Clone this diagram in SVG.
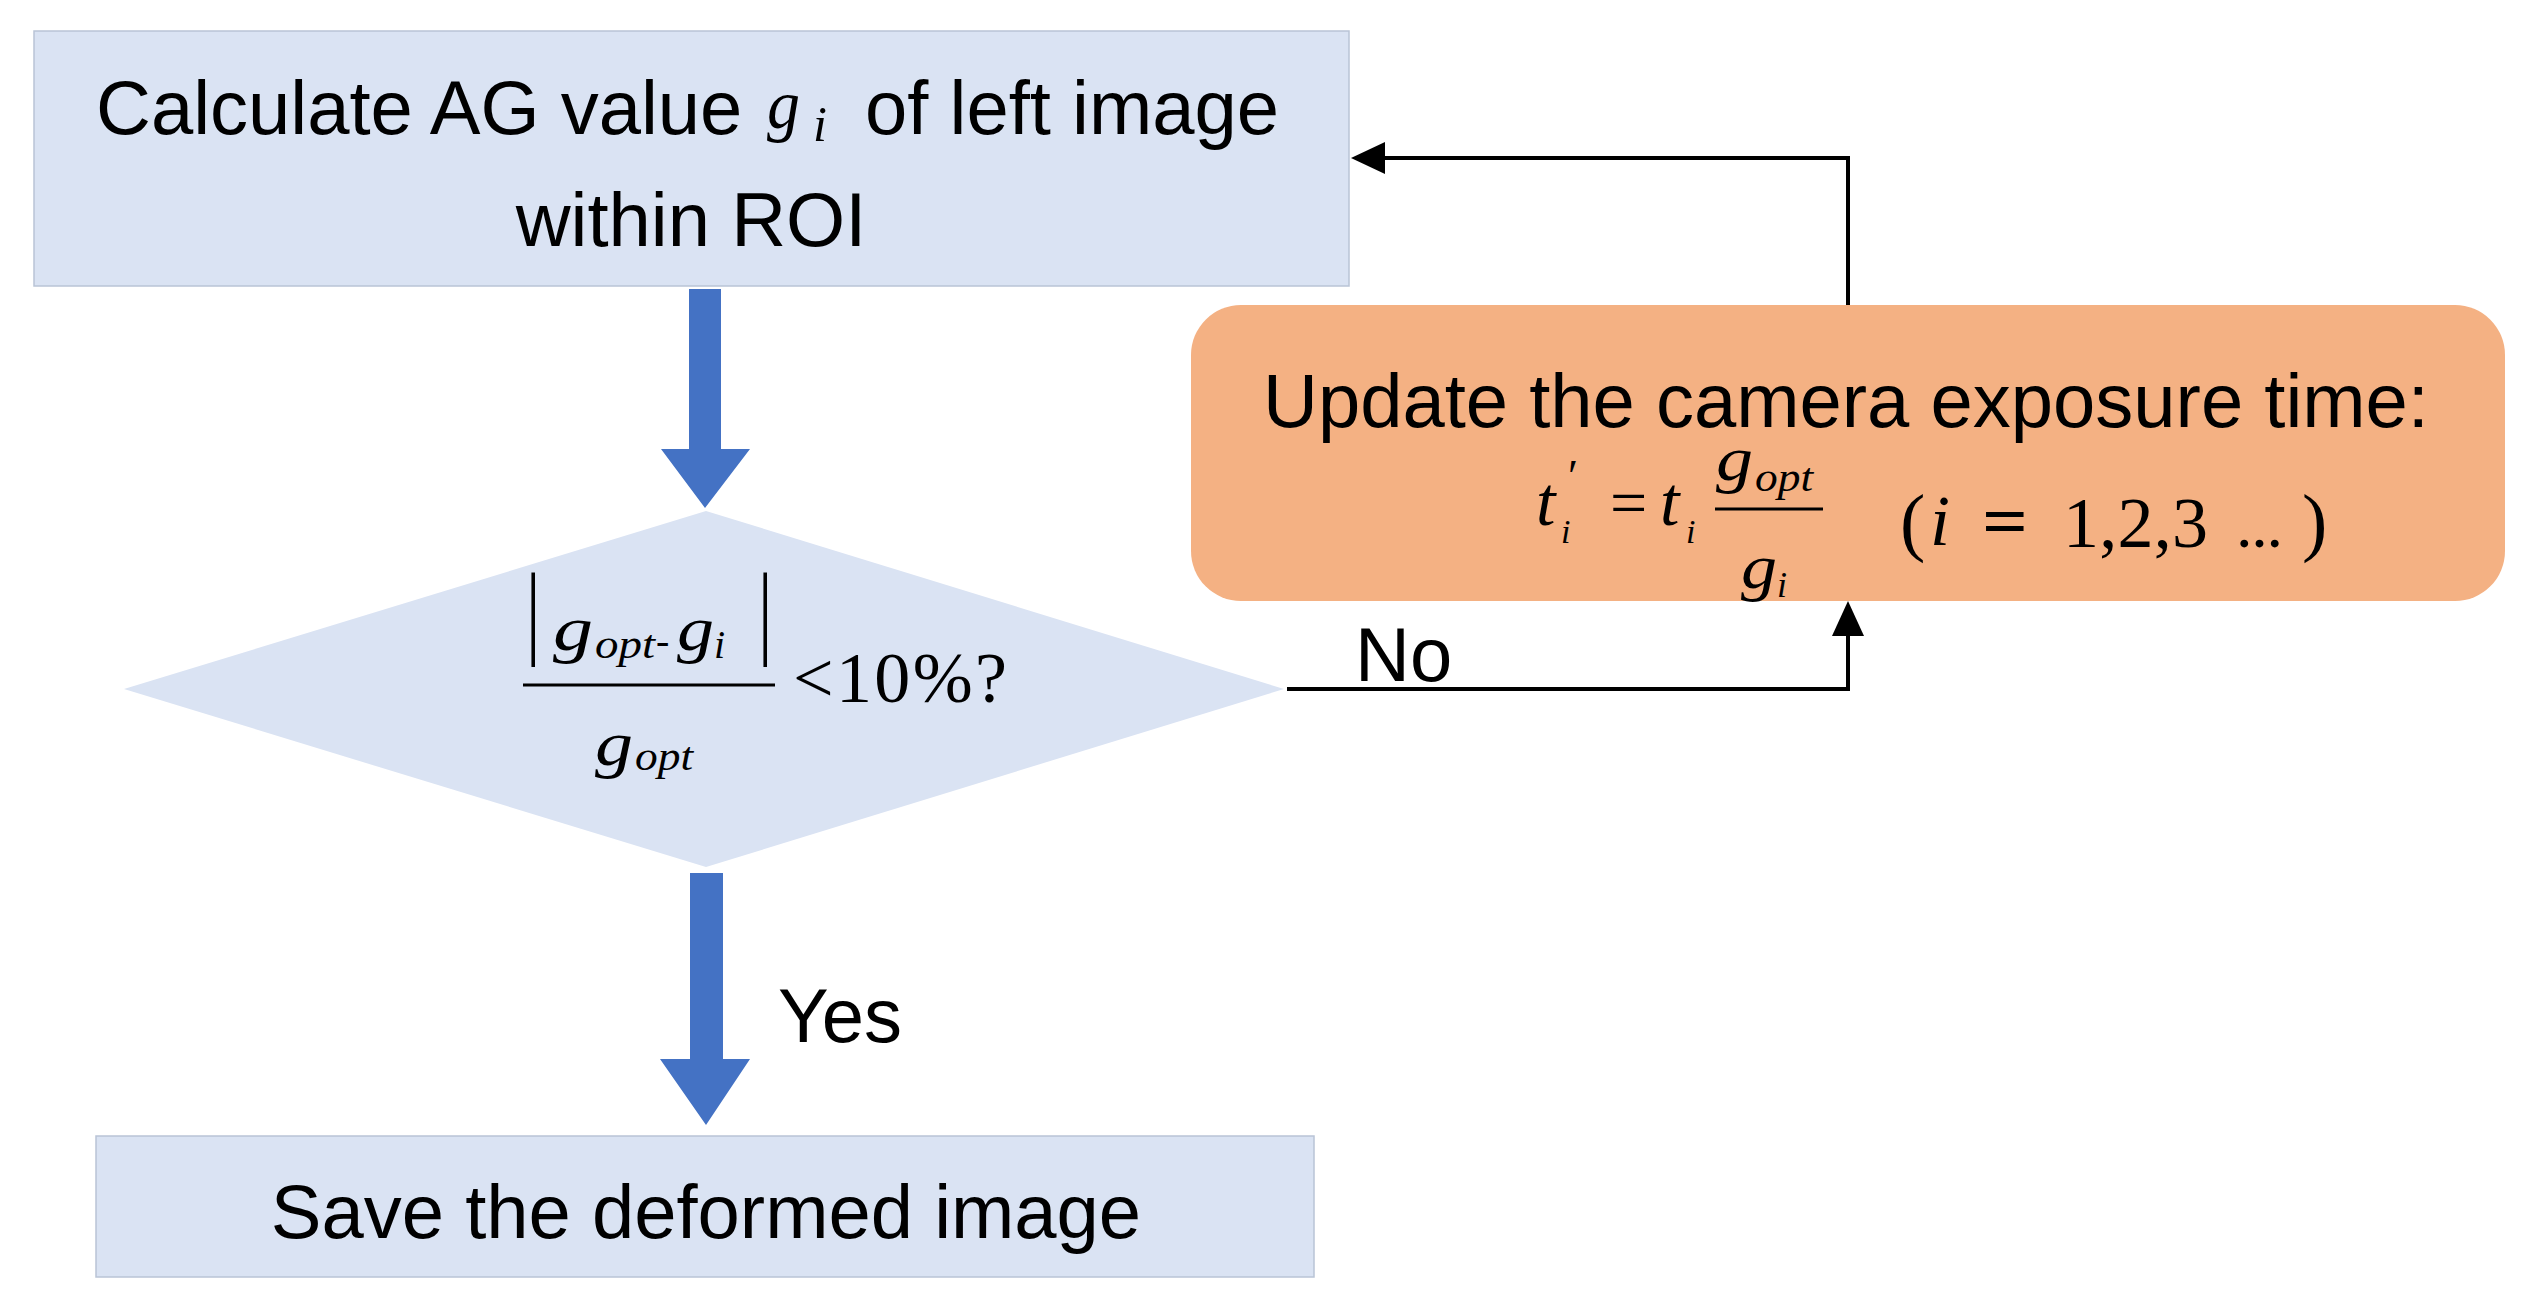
<svg xmlns="http://www.w3.org/2000/svg" width="2533" height="1304" viewBox="0 0 2533 1304">
<style>
.box{fill:#DAE3F3;stroke:#B9C4D6;stroke-width:1.5}
.dia{fill:#DAE3F3}
.orange{fill:#F4B183}
.txt{font-family:"Liberation Sans",Arial,sans-serif;font-size:76px;fill:#000}
.m{font-family:"Liberation Serif","Times New Roman",serif;font-style:italic;fill:#000}
.r{font-family:"Liberation Serif","Times New Roman",serif;fill:#000}
.blue{fill:#4472C4}
.conn{fill:none;stroke:#000;stroke-width:4}
.head{fill:#000}
</style>
<rect width="2533" height="1304" fill="#fff"/>
<g id="node-calc">
<rect class="box" x="34" y="31" width="1315" height="255"/>
<text class="txt" x="96" y="134">Calculate AG value</text>
<text class="m" x="767" y="128" font-size="70" textLength="33" lengthAdjust="spacingAndGlyphs">g</text>
<text class="m" x="813" y="141" font-size="50">i</text>
<text class="txt" x="865" y="134">of left image</text>
<text class="txt" x="691" y="246" text-anchor="middle">within ROI</text>
</g>
<g id="node-check">
<polygon class="dia" points="706,511 1284,689 706,867 124,689"/>
<text class="r" font-size="72" transform="translate(526,645) scale(1,1.44)">|</text>
<text class="m" x="553" y="650" font-size="64" textLength="40" lengthAdjust="spacingAndGlyphs">g</text>
<text class="m" x="595" y="658" font-size="40" textLength="60" lengthAdjust="spacingAndGlyphs">opt</text>
<text class="r" x="656" y="654" font-size="40">-</text>
<text class="m" x="677" y="650" font-size="64" textLength="37" lengthAdjust="spacingAndGlyphs">g</text>
<text class="m" x="714" y="658" font-size="40">i</text>
<text class="r" font-size="72" transform="translate(758,645) scale(1,1.44)">|</text>
<line x1="523" y1="685" x2="775" y2="685" stroke="#000" stroke-width="3"/>
<text class="r" x="793" y="702" font-size="72" textLength="214" lengthAdjust="spacing">&lt;10%?</text>
<text class="m" x="595" y="765" font-size="64" textLength="38" lengthAdjust="spacingAndGlyphs">g</text>
<text class="m" x="635" y="770" font-size="40" textLength="58" lengthAdjust="spacingAndGlyphs">opt</text>
</g>
<g id="node-update">
<rect class="orange" x="1191" y="305" width="1314" height="296" rx="50" ry="50"/>
<text class="txt" x="1846" y="427" text-anchor="middle" font-size="77">Update the camera exposure time:</text>
<text class="m" x="1536" y="525" font-size="70">t</text>
<text class="m" x="1561" y="543" font-size="34">i</text>
<text class="r" x="1568" y="492" font-size="46">′</text>
<text class="r" x="1610" y="525" font-size="66">=</text>
<text class="m" x="1660" y="525" font-size="70">t</text>
<text class="m" x="1686" y="543" font-size="34">i</text>
<line x1="1715" y1="509" x2="1823" y2="509" stroke="#000" stroke-width="3"/>
<text class="m" x="1716" y="480" font-size="64" textLength="37" lengthAdjust="spacingAndGlyphs">g</text>
<text class="m" x="1755" y="491" font-size="40" textLength="58" lengthAdjust="spacingAndGlyphs">opt</text>
<text class="m" x="1741" y="588" font-size="64" textLength="36" lengthAdjust="spacingAndGlyphs">g</text>
<text class="m" x="1777" y="597" font-size="36">i</text>
<text class="r" x="1900" y="547" font-size="76">(</text>
<text class="m" x="1930" y="545" font-size="72">i</text>
<text class="r" x="1982" y="545" font-size="72" font-weight="bold" textLength="46" lengthAdjust="spacingAndGlyphs">=</text>
<text class="r" x="2063" y="547" font-size="72" textLength="145" lengthAdjust="spacing">1,2,3</text>
<text class="r" x="2236" y="547" font-size="66" textLength="47" lengthAdjust="spacing">...</text>
<text class="r" x="2302" y="547" font-size="76">)</text>
</g>
<g id="node-save">
<rect class="box" x="96" y="1136" width="1218" height="141"/>
<text class="txt" x="706" y="1238" text-anchor="middle" font-size="77">Save the deformed image</text>
</g>
<g id="connectors">
<path class="blue" d="M689,289 H721 V449 H750 L705,508 L661,449 H689 Z"/>
<path class="blue" d="M690,873 H723 V1059 H750 L706,1125 L660,1059 H690 Z"/>
<text class="txt" x="778" y="1042" font-size="71">Yes</text>
<path class="conn" d="M1287,689 H1848 V630"/>
<polygon class="head" points="1848,601 1864,636 1832,636"/>
<text class="txt" x="1355" y="681" font-size="71">No</text>
<path class="conn" d="M1848,305 V158 H1380"/>
<polygon class="head" points="1351,158 1385,142 1385,174"/>
</g>
</svg>
